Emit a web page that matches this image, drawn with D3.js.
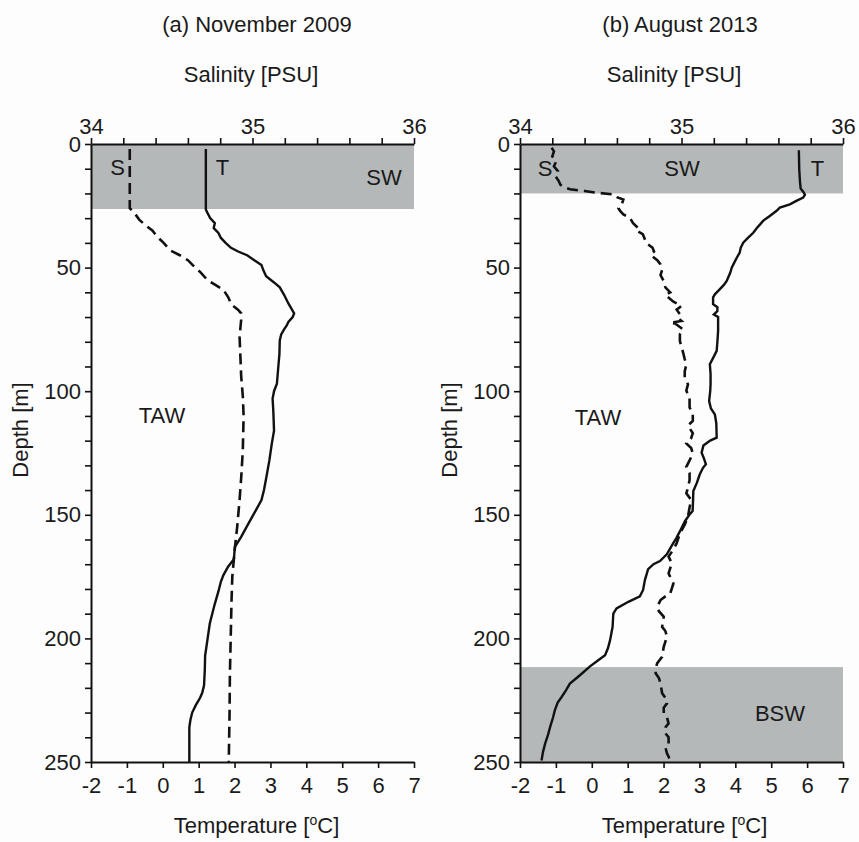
<!DOCTYPE html>
<html>
<head>
<meta charset="utf-8">
<script src="https://cdn.jsdelivr.net/npm/d3@7"></script>
<style>
  body { margin: 0; background: #fdfdfd; }
  svg text { font-family: "Liberation Sans", Arial, sans-serif; fill: #1a1a1a; }
</style>
</head>
<body>
<div id="container"></div>
<script>
// ---- data ----
// panel (a) November 2009
let depthTempA = [2, 26.5, 28, 30, 32, 34, 36, 38, 40, 42, 43.5, 45, 47, 49, 51, 53.5, 56, 58, 61, 64.5, 67, 68.5, 70, 72, 73.5, 75, 77, 79.5, 85, 90, 97, 100, 103, 108, 116, 121, 128, 134.5, 140, 144, 148, 154.8, 159, 163, 168, 171, 174.4, 177, 181, 186, 194, 200, 207, 213, 219, 222, 224, 227, 230, 233, 236, 250];
let tempA = [1.2, 1.2, 1.25, 1.32, 1.45, 1.42, 1.55, 1.62, 1.75, 1.9, 2.1, 2.35, 2.55, 2.75, 2.8, 2.88, 3.1, 3.26, 3.38, 3.5, 3.6, 3.66, 3.62, 3.5, 3.45, 3.38, 3.3, 3.26, 3.25, 3.22, 3.18, 3.1, 3.06, 3.08, 3.1, 3.04, 2.97, 2.89, 2.82, 2.75, 2.6, 2.34, 2.18, 2.01, 1.98, 1.82, 1.69, 1.62, 1.55, 1.45, 1.31, 1.25, 1.18, 1.17, 1.15, 1.1, 1.04, 0.92, 0.82, 0.77, 0.74, 0.74];
let depthSalA = [2, 26, 28, 30.7, 33, 35, 37.5, 40, 43, 45, 47, 49, 52, 55, 57, 59, 62, 65, 67, 68.5, 71, 78, 86, 94, 102, 110, 124, 135, 144, 155, 164, 175, 185, 200, 215, 230, 250];
let salA = [34.24, 34.24, 34.27, 34.30, 34.34, 34.38, 34.41, 34.45, 34.49, 34.55, 34.6, 34.63, 34.68, 34.72, 34.77, 34.82, 34.85, 34.87, 34.91, 34.93, 34.93, 34.92, 34.925, 34.93, 34.94, 34.945, 34.94, 34.93, 34.92, 34.905, 34.89, 34.875, 34.87, 34.865, 34.86, 34.858, 34.853];

// panel (b) August 2013
let depthTempB = [2.5, 10, 15, 18, 19.5, 20.5, 21.7, 23, 24.4, 25.7, 27, 29.1, 31, 32.5, 34, 35.9, 38, 39.9, 42, 44, 46, 48, 50, 52, 55.4, 57, 59, 60.8, 62, 64.8, 66, 67.6, 69, 70, 75.6, 80, 83.7, 86, 89.1, 93, 97.2, 100, 104, 107, 109.4, 113, 118.8, 120, 122, 124.9, 127, 129.6, 131, 133.6, 137, 140.4, 145, 148.5, 150, 152.5, 156, 159.3, 162, 166, 168.7, 170, 172, 176.4, 180.4, 183, 185.2, 187.9, 190, 195.3, 200.7, 204, 206.8, 208.8, 211.3, 214.9, 218.3, 221, 223.7, 226, 229.1, 232, 235.8, 239, 242.6, 246, 249.4];
let tempB = [5.77, 5.78, 5.8, 5.82, 5.9, 5.94, 5.89, 5.7, 5.52, 5.24, 5.15, 4.96, 4.78, 4.69, 4.6, 4.5, 4.35, 4.22, 4.15, 4.12, 4.04, 3.97, 3.9, 3.86, 3.76, 3.68, 3.55, 3.43, 3.38, 3.38, 3.5, 3.5, 3.4, 3.52, 3.52, 3.5, 3.48, 3.4, 3.29, 3.31, 3.31, 3.3, 3.27, 3.32, 3.43, 3.47, 3.48, 3.3, 3.11, 3.06, 3.12, 3.18, 3.1, 3.01, 2.93, 2.83, 2.82, 2.81, 2.72, 2.6, 2.48, 2.36, 2.25, 2.09, 1.9, 1.72, 1.57, 1.48, 1.43, 1.34, 1.02, 0.69, 0.6, 0.58, 0.51, 0.45, 0.37, 0.18, -0.05, -0.33, -0.61, -0.72, -0.84, -0.95, -1.03, -1.08, -1.16, -1.22, -1.3, -1.36, -1.4];
let depthSalB = [1.5, 3, 5, 7, 9, 11, 13, 15, 16.5, 17.5, 18.3, 19, 19.7, 20.4, 21.5, 22.5, 24.4, 26, 27.1, 28.5, 29.8, 32, 33.9, 35, 36.5, 38, 40, 41.9, 43.5, 45, 47, 48.7, 51, 53, 55.4, 58, 60, 61, 63.8, 65.5, 67, 68.9, 70.5, 71.6, 72.3, 72.6, 75, 77, 79.7, 82, 84.4, 87, 89.1, 92, 94.4, 97.2, 99.8, 102.6, 106.6, 109, 112, 113.9, 117, 119, 121.1, 123, 125.2, 128, 130.6, 133, 136, 139, 141.3, 144, 147, 150.8, 154, 157.5, 161.5, 164, 166.9, 169.6, 173.7, 177.8, 181.8, 183, 184.5, 187.2, 189, 191.2, 195.3, 197, 199.3, 203.4, 207.4, 210, 212, 214.1, 216, 218.2, 222.2, 224, 226.3, 228, 230.3, 232, 234.4, 236, 238.4, 240, 242.5, 244, 246.5, 248.5, 249.5];
let salB = [34.196, 34.21, 34.2, 34.225, 34.21, 34.235, 34.22, 34.24, 34.25, 34.27, 34.31, 34.4, 34.47, 34.58, 34.6, 34.64, 34.63, 34.61, 34.62, 34.64, 34.68, 34.7, 34.73, 34.72, 34.76, 34.77, 34.78, 34.82, 34.83, 34.81, 34.85, 34.87, 34.88, 34.87, 34.89, 34.9, 34.93, 34.9, 34.95, 35.0, 34.97, 34.99, 34.98, 35.0, 34.93, 34.96, 35.01, 34.99, 34.99, 35.0, 35.01, 35.02, 35.03, 35.02, 35.02, 35.04, 35.03, 35.05, 35.05, 35.07, 35.07, 35.04, 35.07, 35.06, 35.03, 35.06, 35.07, 35.05, 35.03, 35.05, 35.05, 35.04, 35.03, 35.06, 35.05, 35.04, 35.02, 34.99, 34.97, 34.95, 34.92, 34.94, 34.92, 34.95, 34.93, 34.9, 34.87, 34.85, 34.86, 34.89, 34.88, 34.9, 34.91, 34.89, 34.88, 34.85, 34.84, 34.84, 34.86, 34.87, 34.88, 34.9, 34.91, 34.89, 34.89, 34.91, 34.92, 34.9, 34.9, 34.92, 34.92, 34.9, 34.91, 34.925, 34.94];

let titles = ["(a) November 2009", "(b) August 2013"];
let tempTicks = [-2, -1, 0, 1, 2, 3, 4, 5, 6, 7];
let salLabels = [34, 35, 36];
let depthLabels = [0, 50, 100, 150, 200, 250];

// water mass bands [top, bottom] in m
let bandsA = [[0, 26.3]];
let bandsB = [[0, 20], [211.6, 250]];

// ---- layout ----
let W = 859, H = 842;
let plotW = 323, plotH = 618, plotTop = 144;
let ink = "#111";
let bandColor = "#b4b8b8";
let fs = "22px";

let svg = d3.select("#container").append("svg")
  .attr("width", W).attr("height", H)
  .style("background-color", "#fdfdfd");

function zip(ds, vs){
  return ds.map((d, i) => ({depth: d, v: vs[i]}));
}

function drawPanel(left, p){
  let g = svg.append("g").attr("transform", "translate(" + left + "," + plotTop + ")");

  let yScale = d3.scaleLinear().domain([0, 250]).range([0, plotH]);
  let tScale = d3.scaleLinear().domain([-2, 7]).range([0, plotW]);
  let sScale = d3.scaleLinear().domain([34, 36]).range([0, plotW]);

  // bands
  g.selectAll(".band").data(p.bands).enter().append("rect")
    .attr("class", "band")
    .attr("x", 0)
    .attr("y", d => yScale(d[0]))
    .attr("width", plotW)
    .attr("height", d => yScale(d[1]) - yScale(d[0]))
    .attr("fill", bandColor);

  // axes
  let leftAxis = d3.axisLeft(yScale)
    .tickValues(d3.range(0, 251, 10))
    .tickFormat(d => depthLabels.includes(d) ? d : "")
    .tickSize(6).tickSizeOuter(0).tickPadding(4);
  let topAxis = d3.axisTop(sScale)
    .tickValues(d3.range(0, 11).map(i => 34 + i * 0.2))
    .tickFormat(d => salLabels.includes(Math.round(d * 10) / 10) ? Math.round(d) : "")
    .tickSize(6).tickSizeOuter(0).tickPadding(4);
  let bottomAxis = d3.axisBottom(tScale)
    .tickValues(tempTicks)
    .tickFormat(d => String(d))
    .tickSize(6).tickSizeOuter(0).tickPadding(9);

  [["l", leftAxis, 0], ["t", topAxis, 0], ["b", bottomAxis, plotH]].forEach(a => {
    let ag = g.append("g")
      .attr("transform", "translate(0," + a[2] + ")")
      .call(a[1]);
    ag.select(".domain").attr("stroke", ink).attr("stroke-width", 2);
    ag.selectAll(".tick line").attr("stroke", ink).attr("stroke-width", 1.6);
    ag.selectAll(".tick text")
      .style("font-size", fs)
      .style("font-family", "'Liberation Sans', Arial, sans-serif")
      .attr("fill", "#1a1a1a");
  });

  // profiles
  let lineT = d3.line().x(d => tScale(d.v)).y(d => yScale(d.depth));
  let lineS = d3.line().x(d => sScale(d.v)).y(d => yScale(d.depth));

  g.append("path")
    .datum(zip(p.depthS, p.sal))
    .attr("d", lineS)
    .attr("fill", "none")
    .attr("stroke", ink)
    .attr("stroke-width", 2.6)
    .attr("stroke-dasharray", "11,6");

  g.append("path")
    .datum(zip(p.depthT, p.temp))
    .attr("d", lineT)
    .attr("fill", "none")
    .attr("stroke", ink)
    .attr("stroke-width", 2.4);

  // texts
  let cx = plotW / 2;
  svg.append("text").text(p.title)
    .attr("x", p.titleX).attr("y", 32)
    .attr("text-anchor", "middle").style("font-size", fs);
  svg.append("text").text("Salinity [PSU]")
    .attr("x", p.titleX - 6).attr("y", 82)
    .attr("text-anchor", "middle").style("font-size", fs);

  let tl = svg.append("text")
    .attr("x", left + cx + p.tempDx).attr("y", 833)
    .attr("text-anchor", "middle").style("font-size", fs);
  tl.append("tspan").text("Temperature [");
  tl.append("tspan").text("o").attr("dy", -8).style("font-size", "14px");
  tl.append("tspan").text("C]").attr("dy", 8);

  svg.append("text").text("Depth [m]")
    .attr("transform", "translate(" + (left - 63) + ",430) rotate(-90)")
    .attr("text-anchor", "middle").style("font-size", fs);

  p.notes.forEach(n => {
    svg.append("text").text(n[0])
      .attr("x", n[1]).attr("y", n[2])
      .attr("text-anchor", "middle").style("font-size", fs);
  });
}

drawPanel(91, {
  title: titles[0], titleX: 257, tempDx: 4,
  bands: bandsA,
  depthT: depthTempA, temp: tempA,
  depthS: depthSalA, sal: salA,
  notes: [["S", 117.5, 175], ["T", 222.5, 175], ["SW", 384, 185], ["TAW", 162, 423]]
});
drawPanel(520, {
  title: titles[1], titleX: 680, tempDx: 3,
  bands: bandsB,
  depthT: depthTempB, temp: tempB,
  depthS: depthSalB, sal: salB,
  notes: [["S", 545, 176], ["SW", 682, 176], ["T", 817.5, 176], ["TAW", 598, 425], ["BSW", 780, 721]]
});
</script>
</body>
</html>
